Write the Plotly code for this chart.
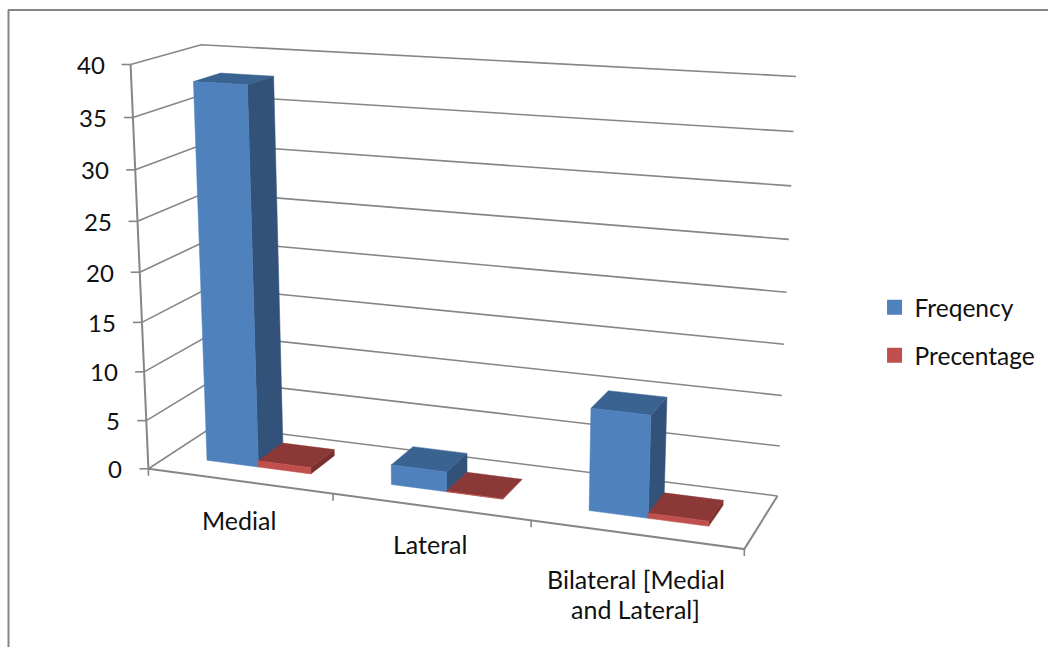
import numpy as np
import plotly.graph_objects as go

categories = ["Medial", "Lateral", "Bilateral [Medial<br>and Lateral]"]
freqency = [38, 2, 10]
precentage = [0.65, 0.04, 0.5]
value_ticks = [0, 5, 10, 15, 20, 25, 30, 35, 40]

WIDTH, HEIGHT = 1048, 647
GRAY = "#868686"
BLUE = {"front": "#4F81BD", "side": "#32527A", "top": "#3B6391"}
RED = {"front": "#C0504D", "side": "#7A302E", "top": "#8C3836"}

# Pinhole camera for the chart box: (category, depth, value / 40, 1) to screen pixels.
CAMERA = np.array([
    [173.27, 79.8699, -24.8393, 148.415],
    [8.05283, -15.7598, -407.736, 468.779],
    [-0.0340769, 0.0644459, -0.0536044, 1.0],
])
AXIS_MAX = 40
SLOT = 2 / 7          # column width as a share of one category
DEPTH = (0.3, 0.7)    # column extent across the floor
LINE_STEP = 30        # distance between the lines of a wrapped category label


def project(x, y, z):
    q = CAMERA @ np.array([x, y, z / AXIS_MAX, 1.0])
    return q[0] / q[2], q[1] / q[2]


def polyline(points):
    xy = [project(*p) for p in points]
    return [p[0] for p in xy], [p[1] for p in xy]


def line_trace(points, width=1.6):
    xs, ys = polyline(points)
    return go.Scatter(x=xs, y=ys, mode="lines", line=dict(color=GRAY, width=width),
                      hoverinfo="skip", showlegend=False)


def face_trace(polys, color):
    xs, ys = [], []
    for poly in polys:
        a, b = polyline(poly + poly[:1])
        xs += a + [None]
        ys += b + [None]
    return go.Scatter(x=xs, y=ys, mode="lines", fill="toself", fillcolor=color,
                      line=dict(color=color, width=0.5), hoverinfo="skip", showlegend=False)


def column_traces(values, offset, colors):
    fronts, sides, tops = [], [], []
    y0, y1 = DEPTH
    for i, v in enumerate(values):
        x0 = i + offset
        x1 = x0 + SLOT
        fronts.append([(x0, y0, 0), (x1, y0, 0), (x1, y0, v), (x0, y0, v)])
        sides.append([(x1, y0, 0), (x1, y1, 0), (x1, y1, v), (x1, y0, v)])
        tops.append([(x0, y0, v), (x1, y0, v), (x1, y1, v), (x0, y1, v)])
    return [face_trace(sides, colors["side"]), face_trace(tops, colors["top"]),
            face_trace(fronts, colors["front"])]


n = len(categories)
fig = go.Figure()

# Gridlines along the left and back walls, then the floor outline and value axis.
for t in value_ticks:
    fig.add_trace(line_trace([(0, 0, t), (0, 1, t), (n, 1, t)]))
fig.add_trace(line_trace([(0, 0, 0), (n, 0, 0), (n, 1, 0)], 2))
fig.add_trace(line_trace([(0, 0, 0), (0, 0, AXIS_MAX)], 2))

# Tick marks sit just outside the box.
tick_x, tick_y = [], []
for t in value_ticks:
    px, py = project(0, 0, t)
    tick_x += [px - 9, px, None]
    tick_y += [py, py, None]
for i in range(n + 1):
    px, py = project(i, 0, 0)
    tick_x += [px, px, None]
    tick_y += [py, py + 7, None]
fig.add_trace(go.Scatter(x=tick_x, y=tick_y, mode="lines", line=dict(color=GRAY, width=1.6),
                         hoverinfo="skip", showlegend=False))

# Each category's red column stands nearer the viewer than its blue one, so it goes on top.
for tr in column_traces(freqency, 3 / 14, BLUE) + column_traces(precentage, 3 / 14 + SLOT, RED):
    fig.add_trace(tr)

for name, colors in (("Freqency", BLUE), ("Precentage", RED)):
    fig.add_trace(go.Scatter(x=[None], y=[None], mode="markers", name=name, legendgroup=name,
                             marker=dict(symbol="square", size=15, color=colors["front"])))

notes = []
for t in value_ticks:
    px, py = project(0, 0, t)
    notes.append(dict(x=px, y=py, text=str(t), xanchor="right", yanchor="middle", xshift=-24))
for i, (label, drop) in enumerate(zip(categories, (22, 20, 28))):
    px, py = project(i + 0.5, 0, 0)
    for k, part in enumerate(label.split("<br>")):
        notes.append(dict(x=px, y=py, text=part, xanchor="center", yanchor="top",
                          yshift=-drop - k * LINE_STEP, font=dict(size=25)))

fig.update_layout(
    width=WIDTH, height=HEIGHT, margin=dict(l=0, r=0, t=0, b=0),
    paper_bgcolor="white", plot_bgcolor="white",
    font=dict(family="Lato", size=24, color="#111111"),
    xaxis=dict(range=[0, WIDTH], visible=False, fixedrange=True),
    yaxis=dict(range=[HEIGHT, 0], visible=False, fixedrange=True),
    annotations=[dict(a, showarrow=False) for a in notes],
    shapes=[
        dict(type="line", x0=8.5, x1=8.5, y0=10, y1=HEIGHT, line=dict(color=GRAY, width=2)),
        dict(type="line", x0=8, x1=WIDTH, y0=10, y1=10, line=dict(color=GRAY, width=2)),
    ],
    legend=dict(x=0.8345, y=0.5596, xanchor="left", yanchor="top", tracegroupgap=13,
                bgcolor="rgba(0,0,0,0)", font=dict(size=24.5)),
)
fig.write_html("out.html")
